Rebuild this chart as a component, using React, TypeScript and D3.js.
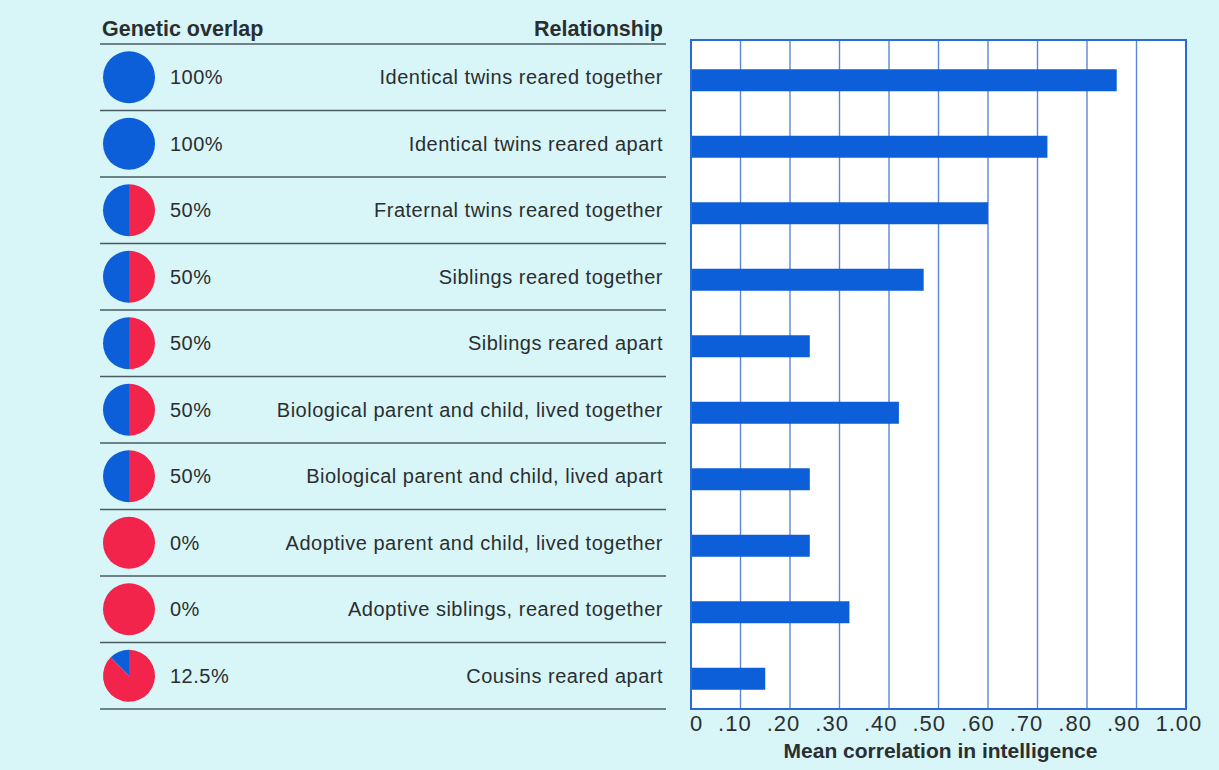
import React from "react";
import * as d3 from "d3";

const relationships = [
  "Identical twins reared together",
  "Identical twins reared apart",
  "Fraternal twins reared together",
  "Siblings reared together",
  "Siblings reared apart",
  "Biological parent and child, lived together",
  "Biological parent and child, lived apart",
  "Adoptive parent and child, lived together",
  "Adoptive siblings, reared together",
  "Cousins reared apart",
];
const overlap = [1, 1, 0.5, 0.5, 0.5, 0.5, 0.5, 0, 0, 0.125];
const overlapLabels = ["100%", "100%", "50%", "50%", "50%", "50%", "50%", "0%", "0%", "12.5%"];
const correlations = [0.86, 0.72, 0.6, 0.47, 0.24, 0.42, 0.24, 0.24, 0.32, 0.15];
const xTicks = [0, 0.1, 0.2, 0.3, 0.4, 0.5, 0.6, 0.7, 0.8, 0.9, 1.0];
const xTickLabels = ["0", ".10", ".20", ".30", ".40", ".50", ".60", ".70", ".80", ".90", "1.00"];

const W = 1219;
const H = 770;
const BG = "#d8f6f8";
const BLUE = "#0c5fd9";
const RED = "#f2244c";
const TEXT = "#2b2e30";
const FONT = "'Liberation Sans', Arial, Helvetica, sans-serif";

export default function App() {
  const rowScale = d3.scaleBand<string>().domain(relationships).range([44, 709]);
  const x = d3.scaleLinear().domain([0, 1]).range([691, 1186]);
  // tick labels in the original are set slightly left of their grid lines
  const labelX = d3.scaleLinear().domain([0, 1]).range([669.5, 1155.5]);
  const plotTop = 40;
  const plotBottom = 709;
  const barH = 22;
  const pieR = 26;
  const pieCx = 129;
  const arc = d3.arc<any>();

  return (
    <div style={{ position: "absolute", left: 0, top: 0 }}>
      <svg width={W} height={H} style={{ display: "block", background: BG }} fontFamily={FONT}>
        <rect x={0} y={0} width={W} height={H} fill={BG} />
        {/* Table header */}
        <text x={102} y={36} fontSize={21.5} fontWeight="bold" fill={TEXT}>Genetic overlap</text>
        <text x={663} y={36} fontSize={21.5} fontWeight="bold" fill={TEXT} textAnchor="end">Relationship</text>
        <line x1={100} x2={666} y1={44} y2={44} stroke="#4b5a62" strokeWidth={1.6} />
        {relationships.map((r, i) => {
          const y0 = rowScale(r)!;
          const cy = y0 + rowScale.bandwidth() / 2;
          const p = overlap[i];
          const blueStart = -2 * Math.PI * p;
          return (
            <g key={r}>
              {p > 0 && (
                <path
                  transform={`translate(${pieCx},${cy})`}
                  d={arc({ innerRadius: 0, outerRadius: pieR, startAngle: blueStart, endAngle: 0 }) || ""}
                  fill={BLUE}
                />
              )}
              {p < 1 && (
                <path
                  transform={`translate(${pieCx},${cy})`}
                  d={arc({ innerRadius: 0, outerRadius: pieR, startAngle: 0, endAngle: 2 * Math.PI * (1 - p) }) || ""}
                  fill={RED}
                />
              )}
              <text x={170} y={cy} dy="0.35em" fontSize={20} letterSpacing={0.5} fill={TEXT}>{overlapLabels[i]}</text>
              <text x={663} y={cy} dy="0.35em" fontSize={20} letterSpacing={0.5} fill={TEXT} textAnchor="end">{r}</text>
              <line x1={100} x2={666} y1={y0 + rowScale.bandwidth()} y2={y0 + rowScale.bandwidth()} stroke="#4b5a62" strokeWidth={1.6} />
            </g>
          );
        })}
        {/* Plot */}
        <rect x={x(0)} y={plotTop} width={x(1) - x(0)} height={plotBottom - plotTop} fill="#ffffff" />
        {xTicks.slice(1, -1).map((t) => (
          <line key={t} x1={x(t)} x2={x(t)} y1={plotTop} y2={plotBottom} stroke="#5d86d6" strokeWidth={1.4} />
        ))}
        {relationships.map((r, i) => {
          const cy = rowScale(r)! + rowScale.bandwidth() / 2 + 3;
          return (
            <rect key={r} x={x(0)} y={cy - barH / 2} width={x(correlations[i]) - x(0)} height={barH} fill={BLUE} />
          );
        })}
        <rect x={x(0)} y={plotTop} width={x(1) - x(0)} height={plotBottom - plotTop} fill="none" stroke="#2a6ad8" strokeWidth={2} />
        {xTicks.map((t, i) => (
          <text
            key={t}
            x={t === 0 ? x(0) - 1 : labelX(t)}
            y={723.5}
            dy="0.35em"
            fontSize={22}
            letterSpacing={1}
            fill={TEXT}
            textAnchor="start"
          >
            {xTickLabels[i]}
          </text>
        ))}
        <text x={(x(0) + x(1)) / 2 + 2} y={751} dy="0.35em" fontSize={21} fontWeight="bold" fill={TEXT} textAnchor="middle">
          Mean correlation in intelligence
        </text>
      </svg>
    </div>
  );
}
